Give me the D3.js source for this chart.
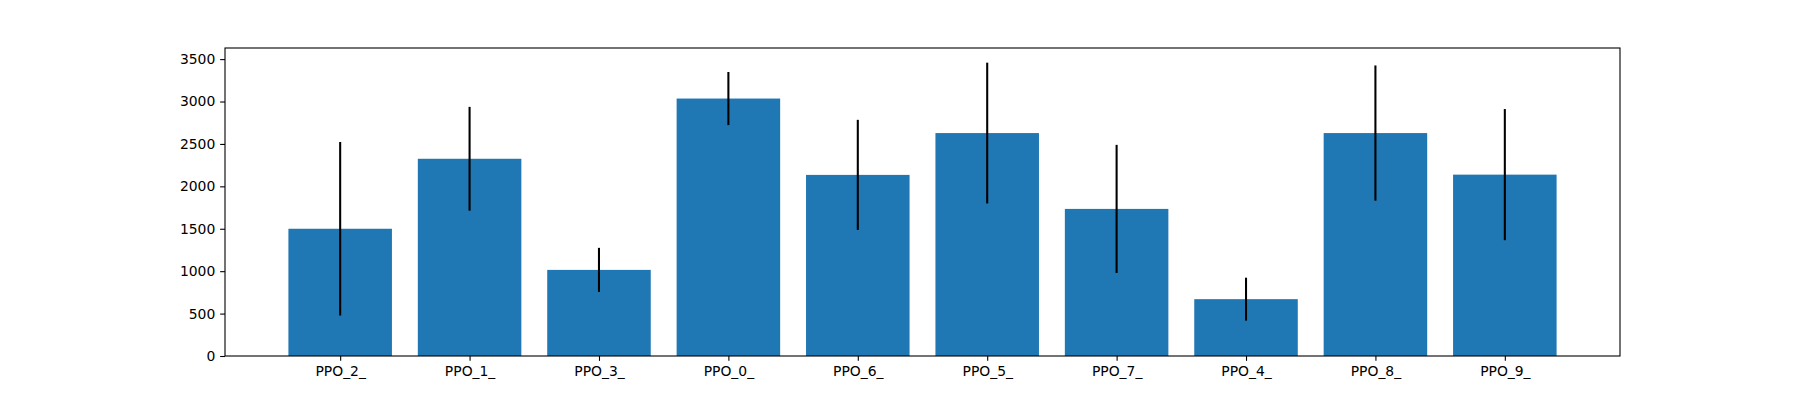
<!DOCTYPE html>
<html>
<head>
<meta charset="utf-8">
<script src="https://cdn.jsdelivr.net/npm/d3@7"></script>
<style>
  body { margin: 0; background: #fff; }
  text { font-family: "DejaVu Sans", sans-serif; font-size: 13.9px; fill: #000; }
</style>
</head>
<body>
<svg id="chart" width="1800" height="400"></svg>
<script>
// Bar labels, heights and error half-widths
var labels = ["PPO_2_", "PPO_1_", "PPO_3_", "PPO_0_", "PPO_6_", "PPO_5_", "PPO_7_", "PPO_4_", "PPO_8_", "PPO_9_"];
var values = [1500, 2325, 1015, 3035, 2135, 2628, 1734, 670, 2628, 2138];
var errors = [1023, 612, 260, 313, 649, 830, 755, 253, 797, 773];
var yTicks = [0, 500, 1000, 1500, 2000, 2500, 3000, 3500];

var svg = d3.select("#chart");
// plot area (note: "top" is reserved on window, so use plot* names)
var plotLeft = 225, plotRight = 1620, plotTop = 48, plotBottom = 356;
var tick = 4.86, pad = 4.86;

// x axis: bar centres at 0..9, width 0.8, 5% margin like matplotlib
var x = d3.scaleLinear().domain([-0.89, labels.length - 1 + 0.89]).range([plotLeft, plotRight]);
var maxTop = d3.max(values.map((v, i) => v + errors[i]));
var y = d3.scaleLinear().domain([0, maxTop * 1.05]).range([plotBottom, plotTop]);

// bars
svg.append("g").selectAll("rect")
  .data(values)
  .enter()
  .append("rect")
  .attr("x", (d, i) => x(i - 0.4))
  .attr("width", x(0.4) - x(-0.4))
  .attr("y", d => y(d))
  .attr("height", d => y(0) - y(d))
  .attr("fill", "#1f77b4");

// error bars
svg.append("g").selectAll("line")
  .data(values)
  .enter()
  .append("line")
  .attr("x1", (d, i) => x(i))
  .attr("x2", (d, i) => x(i))
  .attr("y1", (d, i) => y(d + errors[i]))
  .attr("y2", (d, i) => y(d - errors[i]))
  .attr("stroke", "#000")
  .attr("stroke-width", 2.08);

// y axis
var yAxis = d3.axisLeft(y).tickValues(yTicks).tickSize(tick).tickPadding(pad).tickFormat(d3.format("d"));
var gy = svg.append("g").attr("transform", `translate(${plotLeft},0)`).call(yAxis);
gy.select(".domain").remove();
gy.selectAll(".tick line").attr("stroke", "#000").attr("stroke-width", 1.1);

// x axis
var xAxis = d3.axisBottom(x).tickValues(d3.range(labels.length)).tickSize(tick).tickPadding(pad).tickFormat(i => labels[i]);
var gx = svg.append("g").attr("transform", `translate(0,${plotBottom})`).call(xAxis);
gx.select(".domain").remove();
gx.selectAll(".tick line").attr("stroke", "#000").attr("stroke-width", 1.1);

// let the stylesheet set the font
[gx, gy].forEach(g => {
  g.attr("font-size", null).attr("font-family", null);
  g.selectAll(".tick text").attr("fill", null);
});

// frame
svg.append("rect")
  .attr("x", plotLeft).attr("y", plotTop)
  .attr("width", plotRight - plotLeft).attr("height", plotBottom - plotTop)
  .attr("fill", "none")
  .attr("stroke", "#000")
  .attr("stroke-width", 1.1);
</script>
</body>
</html>
